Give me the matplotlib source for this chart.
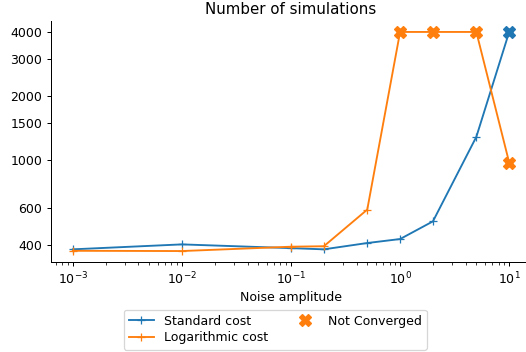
import numpy as np
import matplotlib.pyplot as plt
from matplotlib.ticker import FixedLocator, NullFormatter

# Уровни шума
noise = [1e-3, 1e-2, 1e-1, 2e-1, 5e-1, 1, 2, 5, 10]
# Число симуляций для каждой функции стоимости
standard_cost = [383, 404, 388, 383, 410, 428, 518, 1290, 4000]
log_cost = [377, 376, 394, 396, 588, 4000, 4000, 4000, 977]
# Точки, где метод не сошёлся
standard_nc = [10]
standard_nc_vals = [4000]
log_nc = [1, 2, 5, 10]
log_nc_vals = [4000, 4000, 4000, 977]

y_ticks = [400, 600, 1000, 1500, 2000, 3000, 4000]

W, H = 526, 352
DPI = 90
fig = plt.figure(figsize=(W / DPI, H / DPI), dpi=DPI)
ax = fig.add_axes([51 / W, (H - 262) / H, (531 - 51) / W, (262 - 21) / H])

ax.plot(noise, standard_cost, marker="+", color="tab:blue", label="Standard cost")
ax.plot(noise, log_cost, marker="+", color="tab:orange", label="Logarithmic cost")
ax.plot(standard_nc, standard_nc_vals, "X", color="tab:blue", markersize=10)
ax.plot(log_nc, log_nc_vals, "X", color="tab:orange", markersize=10, label="Not Converged")

ax.set_xscale("log")
ax.set_yscale("log")
ax.yaxis.set_major_locator(FixedLocator(y_ticks))
ax.set_yticklabels([str(t) for t in y_ticks])
ax.yaxis.set_minor_formatter(NullFormatter())
ax.yaxis.set_minor_locator(FixedLocator([]))

ax.spines["top"].set_visible(False)
ax.spines["right"].set_visible(False)

ax.set_title("Number of simulations")
ax.set_xlabel("Noise amplitude", labelpad=3)

fig.legend(*ax.get_legend_handles_labels(), loc="upper center", ncol=2,
           labelspacing=0.3, borderaxespad=0.3,
           bbox_to_anchor=(275 / W, 1 - 306 / H))

fig.savefig("out.png", dpi=DPI)
